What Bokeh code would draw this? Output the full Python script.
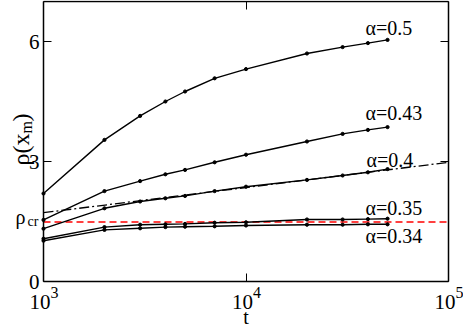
import math
from bokeh.plotting import figure
from bokeh.models import Range1d, FixedTicker, LinearAxis, LogAxis, Label
from bokeh.embed import file_html
from bokeh.resources import INLINE

# ---------------- data ----------------
t = [1000, 2000, 3000, 4000, 5000, 7000, 10000, 20000, 30000, 40000, 50000]
rho_a050 = [2.20, 3.54, 4.14, 4.50, 4.75, 5.08, 5.31, 5.70, 5.86, 5.96, 6.04]
rho_a043 = [1.54, 2.26, 2.51, 2.68, 2.79, 2.98, 3.17, 3.50, 3.69, 3.79, 3.86]
rho_a040 = [1.32, 1.83, 2.00, 2.08, 2.14, 2.26, 2.37, 2.54, 2.65, 2.73, 2.81]
rho_a035 = [1.07, 1.36, 1.42, 1.43, 1.44, 1.47, 1.48, 1.55, 1.55, 1.56, 1.57]
rho_a034 = [1.02, 1.29, 1.33, 1.36, 1.37, 1.38, 1.40, 1.42, 1.42, 1.43, 1.43]
fit_t = [1e3, 1e5]
fit_rho = [1.72, 2.98]
rho_cr = 1.49
series_labels = ["α=0.5", "α=0.43", "α=0.4", "α=0.35", "α=0.34"]
x_ticks = [1e3, 1e4, 1e5]
x_tick_base = "10"
x_tick_exps = ["3", "4", "5"]
y_ticks = [0, 3, 6]
x_lo, x_hi = 1e3, 1e5
y_lo, y_hi = 0, 7

FONT = "Liberation Serif"

# ---------------- layout (pixels) ----------------
W, H = 463, 327
L, R, T, B = 43, 15, 1, 46          # space around the axis box
ppd = (W - L - R) / math.log10(x_hi / x_lo)
ppu = (H - T - B) / (y_hi - y_lo)
x_range = Range1d(10 ** (math.log10(x_lo) - L / ppd), 10 ** (math.log10(x_hi) + R / ppd))
y_range = Range1d(y_lo - B / ppu, y_hi + T / ppu)
BASE_FIX = 5   # baseline correction for labels (px)

p = figure(width=W, height=H, x_axis_type="log", x_range=x_range, y_range=y_range,
           x_axis_location=None, y_axis_location=None,
           output_backend="svg", toolbar_location=None, min_border=0)
p.grid.visible = False
p.outline_line_color = None
p.background_fill_color = "white"
p.border_fill_color = "white"

def style_axis(ax, labels=True):
    ax.axis_line_color = "black"
    ax.axis_line_width = 1.5
    ax.major_tick_in = 8
    ax.major_tick_out = 0
    ax.minor_tick_in = 0
    ax.minor_tick_out = 0
    ax.major_tick_line_color = "black"
    ax.major_tick_line_width = 1
    ax.major_label_text_font = FONT
    ax.major_label_text_font_size = "21px"
    ax.major_label_text_color = "black" if labels else None

bottom = LogAxis(ticker=FixedTicker(ticks=x_ticks), fixed_location=y_lo,
                 bounds=(x_lo, x_hi))
style_axis(bottom, labels=False)
p.add_layout(bottom, "below")

top = LogAxis(ticker=FixedTicker(ticks=x_ticks), fixed_location=y_hi,
              bounds=(x_lo, x_hi))
style_axis(top, labels=False)
p.add_layout(top, "above")

left = LinearAxis(ticker=FixedTicker(ticks=y_ticks), fixed_location=x_lo,
                  bounds=(y_lo, y_hi))
style_axis(left)
left.major_label_standoff = 4
p.add_layout(left, "left")

right = LinearAxis(ticker=FixedTicker(ticks=y_ticks), fixed_location=x_hi,
                   bounds=(y_lo, y_hi))
style_axis(right, labels=False)
p.add_layout(right, "right")

# critical density line
p.segment(x0=[x_lo], x1=[x_hi], y0=[rho_cr], y1=[rho_cr], line_color="red",
          line_dash="7 4", line_width=1.5)

# fit (dash-dot)
p.line(fit_t, fit_rho, line_color="black", line_width=1.3, line_dash="10 3 2 3")

def add_text(x, y, text, dx=0, dy=0, size="20px", align="left", angle=0):
    if angle:
        dx = dx - BASE_FIX
    else:
        dy = dy + BASE_FIX
    p.add_layout(Label(x=x, y=y, x_offset=dx, y_offset=dy, text=text, angle=angle,
                       text_font=FONT, text_font_size=size, text_color="black",
                       text_align=align, text_baseline="alphabetic"))

series = [rho_a050, rho_a043, rho_a040, rho_a035, rho_a034]
offsets = [(-22, 7), (-22, 9), (-21, 4), (-22, 6), (-22, -17)]
for rho, lab, (dx, dy) in zip(series, series_labels, offsets):
    p.line(t, rho, line_color="black", line_width=1.4)
    p.scatter(t, rho, size=3.2, color="black")
    add_text(t[-1], rho[-1], lab, dx, dy)

# x tick labels 10^n
for xt, ex in zip(x_ticks, x_tick_exps):
    add_text(xt, y_lo, x_tick_base, 7, -25, size="21px", align="right")
    add_text(xt, y_lo, ex, 7, -16, size="16px")

# x axis title
add_text(10 ** ((math.log10(x_lo) + math.log10(x_hi)) / 2), y_lo, "t", 0, -40, align="center")

# rho_cr label
add_text(x_lo, rho_cr, "ρ", -28, 0)
add_text(x_lo, rho_cr, "cr", -16, -5, size="14px")

# y axis title  rho(x_m)
yc = (y_lo + y_hi) / 2
rot = math.pi / 2
add_text(x_lo, yc, "ρ(x", -18, -24, size="24px", angle=rot)
add_text(x_lo, yc, "m", -12, 8, size="16px", angle=rot)
add_text(x_lo, yc, ")", -18, 20, size="24px", angle=rot)

open("out.html", "w").write(file_html(p, INLINE))
